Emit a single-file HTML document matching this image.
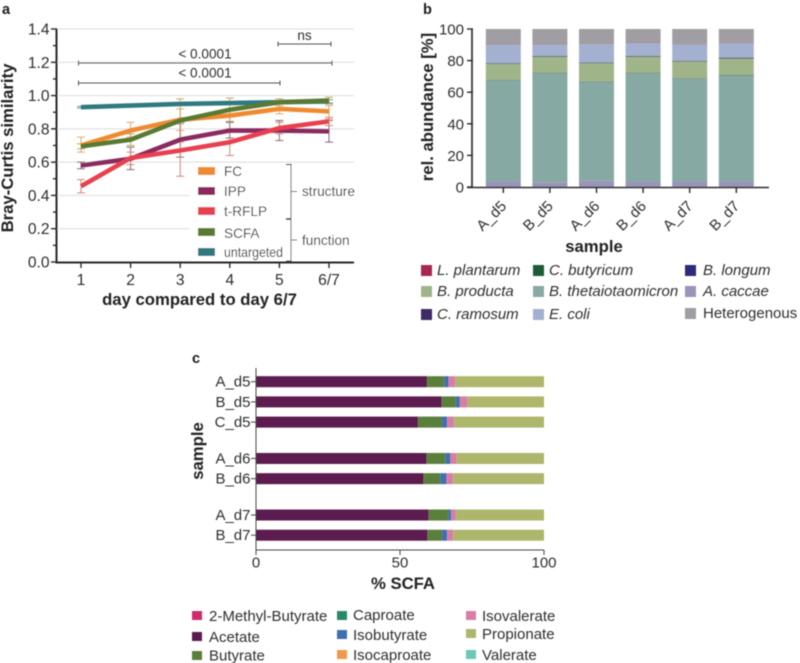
<!DOCTYPE html>
<html lang="en">
<head>
<meta charset="utf-8">
<title>Bray-Curtis similarity, abundance and SCFA composition</title>
<style>
html,body{margin:0;padding:0;background:#fff}
svg{display:block;font-family:"Liberation Sans",Arial,sans-serif;fill:#2e2e2e}
.tick{font-size:15.6px}
.tickb{font-size:15px}
.title{font-size:16.7px;font-weight:bold;fill:#222}
.leg{font-size:13.6px}
.legb{font-size:15px}
.legi{font-size:15px;font-style:italic}
.panel{font-size:14.5px;font-weight:bold;fill:#1c1c1c}
</style>
</head>
<body>
<svg id="fig" xmlns="http://www.w3.org/2000/svg" width="800" height="663" viewBox="0 0 800 663">
<defs><filter id="soft" x="0" y="0" width="100%" height="100%"><feGaussianBlur stdDeviation="0.45"/></filter></defs>
<rect width="800" height="663" fill="#fff"/>
<g id="root" filter="url(#soft)">
<text class="panel" x="2" y="14">a</text>
<text class="panel" x="423" y="14">b</text>
<text class="panel" x="192" y="363">c</text>

<g id="chartA"></g>
<text class="title" x="199.500" y="305" text-anchor="middle">day compared to day 6/7</text>
<text class="title" transform="translate(13,148) rotate(-90)" text-anchor="middle">Bray-Curtis similarity</text>

<g stroke="#555" stroke-width="1" fill="none">
<path d="M278 44H331M278 41.5V46.5M331 41.5V46.5"/>
<path d="M78.500 63H332M78.500 60.500V65.500M332 60.500V65.500"/>
<path d="M78.500 83H280M78.500 80.500V85.500M280 80.500V85.500"/>
</g>
<text class="leg" x="304.500" y="40" text-anchor="middle">ns</text>
<text class="leg" x="205" y="58.500" text-anchor="middle">&lt; 0.0001</text>
<text class="leg" x="205" y="77.500" text-anchor="middle">&lt; 0.0001</text>

<g>
<rect x="190" y="166" width="164" height="94" fill="#fff"/>
<rect x="198" y="167" width="17" height="8" fill="#f08a2e"/>
<text class="leg" x="224" y="176">FC</text>
<rect x="198" y="187" width="17" height="8" fill="#8c2c60"/>
<text class="leg" x="224" y="196">IPP</text>
<rect x="198" y="207" width="17" height="8" fill="#e8404f"/>
<text class="leg" x="224" y="216">t-RFLP</text>
<rect x="198" y="228" width="17" height="8" fill="#587a32"/>
<text class="leg" x="224" y="238">SCFA</text>
<rect x="198" y="248" width="17" height="8" fill="#2f7a80"/>
<text class="leg" x="224" y="257" textLength="59" lengthAdjust="spacingAndGlyphs">untargeted</text>
</g>
<path d="M286 164.500H291V218.500H286M291 191.500H297" fill="none" stroke="#555" stroke-width="1"/>
<path d="M286 219.500H291V261H286M291 240H297" fill="none" stroke="#555" stroke-width="1"/>
<text class="leg" x="302" y="196">structure</text>
<text class="leg" x="302" y="245">function</text>

<g id="chartB"></g>
<text class="title" x="594" y="252" text-anchor="middle">sample</text>
<text class="title" transform="translate(433,107) rotate(-90)" text-anchor="middle">rel. abundance [%]</text>

<g>
<rect x="421" y="265" width="11" height="11" fill="#a8274f"/>
<text class="legi" x="437" y="275">L. plantarum</text>
<rect x="421" y="286" width="11" height="11" fill="#a0b48a"/>
<text class="legi" x="437" y="296">B. producta</text>
<rect x="421" y="309" width="11" height="11" fill="#3d2a66"/>
<text class="legi" x="437" y="319">C. ramosum</text>
<rect x="533" y="265" width="11" height="11" fill="#1f5c36"/>
<text class="legi" x="549" y="275">C. butyricum</text>
<rect x="533" y="286" width="11" height="11" fill="#86a9a3"/>
<text class="legi" x="549" y="296">B. thetaiotaomicron</text>
<rect x="533" y="309" width="11" height="11" fill="#a3b0cf"/>
<text class="legi" x="549" y="319">E. coli</text>
<rect x="685" y="265" width="11" height="11" fill="#2f2a78"/>
<text class="legi" x="703" y="275">B. longum</text>
<rect x="685" y="286" width="11" height="11" fill="#9a94b8"/>
<text class="legi" x="703" y="296">A. caccae</text>
<rect x="685" y="308" width="11" height="11" fill="#a09ea2"/>
<text class="legb" x="703" y="318">Heterogenous</text>
</g>

<g id="chartC"></g>
<text class="title" x="403" y="589" text-anchor="middle">% SCFA</text>
<text class="title" transform="translate(203,451) rotate(-90)" text-anchor="middle">sample</text>

<g>
<rect x="192" y="611" width="10" height="9" fill="#cf2a6c"/>
<text class="legb" x="209" y="621">2-Methyl-Butyrate</text>
<rect x="192" y="632" width="10" height="9" fill="#5c1a50"/>
<text class="legb" x="209" y="642">Acetate</text>
<rect x="192" y="651" width="10" height="9" fill="#5a7f3a"/>
<text class="legb" x="209" y="660.500">Butyrate</text>
<rect x="337" y="611" width="10" height="9" fill="#2a8a68"/>
<text class="legb" x="353" y="620">Caproate</text>
<rect x="337" y="630" width="10" height="9" fill="#3f6fae"/>
<text class="legb" x="353" y="640">Isobutyrate</text>
<rect x="337" y="650" width="10" height="9" fill="#f09a48"/>
<text class="legb" x="353" y="660">Isocaproate</text>
<rect x="466" y="611" width="10" height="9" fill="#d77ea6"/>
<text class="legb" x="482" y="621">Isovalerate</text>
<rect x="466" y="629" width="10" height="9" fill="#aeb66c"/>
<text class="legb" x="482" y="639">Propionate</text>
<rect x="466" y="650" width="10" height="9" fill="#6cc8b4"/>
<text class="legb" x="482" y="660">Valerate</text>
</g>
</g>
</svg>
<script>
// ---------- Chart a data ----------
const daysA = ['1', '2', '3', '4', '5', '6/7'];
const ticksA = [0, 0.2, 0.4, 0.6, 0.8, 1.0, 1.2, 1.4];
const fcMean = [0.70, 0.79, 0.855, 0.88, 0.92, 0.905];
const fcLow = [0.66, 0.75, 0.79, 0.84, 0.89, 0.86];
const fcHigh = [0.75, 0.84, 0.92, 0.92, 0.96, 0.94];
const ippMean = [0.58, 0.62, 0.735, 0.79, 0.79, 0.785];
const ippLow = [0.56, 0.555, 0.63, 0.745, 0.73, 0.72];
const ippHigh = [0.60, 0.69, 0.84, 0.84, 0.85, 0.85];
const rflpMean = [0.455, 0.625, 0.67, 0.72, 0.805, 0.845];
const rflpLow = [0.415, 0.585, 0.515, 0.64, 0.77, 0.82];
const rflpHigh = [0.495, 0.66, 0.83, 0.80, 0.84, 0.87];
const scfaMean = [0.695, 0.735, 0.85, 0.915, 0.96, 0.97];
const scfaLow = [0.68, 0.70, 0.72, 0.845, 0.94, 0.95];
const scfaHigh = [0.71, 0.77, 0.98, 0.985, 0.98, 0.99];
const untargetedMean = [0.93, 0.94, 0.95, 0.955, 0.96, 0.965];
const untargetedLow = [0.925, 0.935, 0.945, 0.95, 0.955, 0.955];
const untargetedHigh = [0.935, 0.945, 0.955, 0.96, 0.965, 0.975];

// ---------- Chart b data ----------
const samplesB = ['A_d5', 'B_d5', 'A_d6', 'B_d6', 'A_d7', 'B_d7'];
const ticksB = [0, 20, 40, 60, 80, 100];
const caccae = [3.5, 3, 4, 3.5, 3.5, 3.5];
const theta = [64, 69, 62.5, 68.5, 65, 67];
const butyricum = [0.4, 0.4, 0.4, 0.4, 0.4, 0.4];
const producta = [10, 10, 11.5, 10, 10.5, 10.3];
const ramosum = [0.5, 0.6, 0.5, 0.6, 0.5, 0.7];
const ecoli = [11.6, 7, 11.1, 8, 10.1, 9];
const plantarum = [0.8, 0.5, 0.3, 1, 0.7, 0.8];
const heterogenous = [9.2, 9.5, 9.7, 8, 9.3, 8.3];

// ---------- Chart c data ----------
const samplesC = ['A_d5', 'B_d5', 'C_d5', 'A_d6', 'B_d6', 'A_d7', 'B_d7'];
const rowPositionsC = [0, 1, 2, 3.8, 4.8, 6.6, 7.6];
const ticksC = [0, 50, 100];
const acetate = [59.4, 64.5, 56.3, 59.3, 58.2, 60, 59.6];
const butyrate = [6, 4.9, 8.3, 6.4, 5.8, 6.8, 5];
const isobutyrate = [1.5, 1.4, 1.8, 1.8, 2.2, 1, 1.8];
const isovalerate = [2.3, 2.6, 2.4, 2.1, 2.3, 1.6, 2.1];
const propionate = [30.8, 26.6, 31.2, 30.4, 31.5, 30.6, 31.5];

const NS = 'http://www.w3.org/2000/svg';
function make(parent, tag, attrs, txt) {
  const e = document.createElementNS(NS, tag);
  for (const k in attrs) e.setAttribute(k, attrs[k]);
  if (txt !== undefined) e.textContent = txt;
  parent.appendChild(e);
  return e;
}

// ---------- Chart a ----------
const gA = document.getElementById('chartA');
const xA = i => 81 + i * 49.6;
const yA = v => 262 - v * (233 / 1.4);

ticksA.forEach(t => {
  if (t === 0) return;
  const x2 = t < 0.5 ? 190 : 354;
  const grid = make(gA, 'line', {x1: 57, x2: x2, y1: yA(t), y2: yA(t), stroke: '#dcdcdc', 'stroke-width': 1});
  
  
});
for (let m = 0; m <= 14; m++) {
  const isMajor = m % 2 === 0;
  const tk = make(gA, 'line', {x1: isMajor ? 51 : 53, x2: 57, y1: yA(m / 10), y2: yA(m / 10), stroke: '#2a2a2a', 'stroke-width': 1.4});
  
  
}
ticksA.forEach(t => {
  const lb = make(gA, 'text', {class: 'tick', x: 49.5, y: yA(t) + 5.5, 'text-anchor': 'end'}, t.toFixed(1));
  
  
});
daysA.forEach((d, i) => {
  const tk = make(gA, 'line', {x1: xA(i), x2: xA(i), y1: 262, y2: 268, stroke: '#2a2a2a', 'stroke-width': 1.4});
  
  
  const lb = make(gA, 'text', {class: 'tick', x: xA(i), y: 285, 'text-anchor': 'middle'}, d);
  
  
});
const axA = make(gA, 'path', {d: 'M56.500 28.500V262.500H354', fill: 'none', stroke: '#2a2a2a', 'stroke-width': 2});



const seriesA = [
  {name: 'untargeted', color: '#2f7a80', err: '#6f9a9c', mean: untargetedMean, low: untargetedLow, high: untargetedHigh},
  {name: 'fc', color: '#f08a2e', err: '#e0a873', mean: fcMean, low: fcLow, high: fcHigh},
  {name: 'scfa', color: '#587a32', err: '#c0a868', mean: scfaMean, low: scfaLow, high: scfaHigh},
  {name: 'ipp', color: '#8c2c60', err: '#8a6a78', mean: ippMean, low: ippLow, high: ippHigh},
  {name: 't-rflp', color: '#e8404f', err: '#cc8878', mean: rflpMean, low: rflpLow, high: rflpHigh}
];
seriesA.forEach(s => {
  s.mean.forEach((v, i) => {
    const x = xA(i);
    const a = yA(s.low[i]);
    const b = yA(s.high[i]);
    const err = make(gA, 'path', {d: 'M' + x + ' ' + a + 'V' + b + 'M' + (x - 4) + ' ' + a + 'H' + (x + 4) + 'M' + (x - 4) + ' ' + b + 'H' + (x + 4), fill: 'none', stroke: s.err, 'stroke-width': 1});
    
    
  });
});
seriesA.forEach(s => {
  const pts = s.mean.map((v, i) => xA(i) + ',' + yA(v)).join(' ');
  const ln = make(gA, 'polyline', {points: pts, fill: 'none', stroke: s.color, 'stroke-width': 4.6, 'stroke-linejoin': 'round'});
  
  
});

// ---------- Chart b ----------
const gB = document.getElementById('chartB');
const xB = i => 503.3 + i * 46.6;
const yB = v => 187 - v * 1.58;
const stackB = [
  {name: 'a-caccae', color: '#9a94b8', values: caccae},
  {name: 'b-thetaiotaomicron', color: '#86a9a3', values: theta},
  {name: 'c-butyricum', color: '#4a6a58', values: butyricum},
  {name: 'b-producta', color: '#a0b48a', values: producta},
  {name: 'c-ramosum', color: '#3d4a5a', values: ramosum},
  {name: 'e-coli', color: '#a3b0cf', values: ecoli},
  {name: 'l-plantarum', color: '#9a8aa0', values: plantarum},
  {name: 'heterogenous', color: '#a09ea2', values: heterogenous}
];
samplesB.forEach((sm, i) => {
  let base = 0;
  stackB.forEach(st => {
    const v = st.values[i];
    const seg = make(gB, 'rect', {x: xB(i) - 17.5, y: yB(base + v), width: 35, height: v * 1.58, fill: st.color});
    
    
    base += v;
  });
  const tk = make(gB, 'line', {x1: xB(i), x2: xB(i), y1: 187, y2: 193, stroke: '#2a2a2a', 'stroke-width': 1.4});
  
  
  const lb = make(gB, 'text', {class: 'tickb', 'text-anchor': 'end', transform: 'translate(' + (xB(i) + 4) + ',207) rotate(-45)'}, sm);
  
  
});
ticksB.forEach(t => {
  const tk = make(gB, 'line', {x1: 467, x2: 473, y1: yB(t), y2: yB(t), stroke: '#2a2a2a', 'stroke-width': 1.4});
  
  
  const lb = make(gB, 'text', {class: 'tickb', x: 464, y: yB(t) + 5.5, 'text-anchor': 'end'}, String(t));
  
  
});
const axB = make(gB, 'path', {d: 'M472 29V187.500M467 187.500H769', fill: 'none', stroke: '#2a2a2a', 'stroke-width': 1.6});



// ---------- Chart c ----------
const gC = document.getElementById('chartC');
const xC = v => 256 + v * 2.88;
const yC = r => 381.7 + r * 20.2;
const stackC = [
  {name: 'acetate', color: '#5c1a50', values: acetate},
  {name: 'butyrate', color: '#5a7f3a', values: butyrate},
  {name: 'isobutyrate', color: '#3f6fae', values: isobutyrate},
  {name: 'isovalerate', color: '#d77ea6', values: isovalerate},
  {name: 'propionate', color: '#aeb66c', values: propionate}
];
samplesC.forEach((sm, i) => {
  const cy = yC(rowPositionsC[i]);
  let base = 0;
  stackC.forEach(st => {
    const v = st.values[i];
    const seg = make(gC, 'rect', {x: xC(base), y: cy - 5.5, width: v * 2.88, height: 11, fill: st.color});
    
    
    base += v;
  });
  const tk = make(gC, 'line', {x1: 251, x2: 256, y1: cy, y2: cy, stroke: '#444', 'stroke-width': 1});
  
  
  const lb = make(gC, 'text', {class: 'tickb', x: 250.5, y: cy + 5, 'text-anchor': 'end'}, sm);
  
  
});
ticksC.forEach(t => {
  const tk = make(gC, 'line', {x1: xC(t), x2: xC(t), y1: 550, y2: 555, stroke: '#444', 'stroke-width': 1});
  
  
  const lb = make(gC, 'text', {class: 'tickb', x: xC(t), y: 567.5, 'text-anchor': 'middle'}, String(t));
  
  
});
const axC = make(gC, 'path', {d: 'M256 368V550H544', fill: 'none', stroke: '#444', 'stroke-width': 1});


</script>
</body>
</html>
